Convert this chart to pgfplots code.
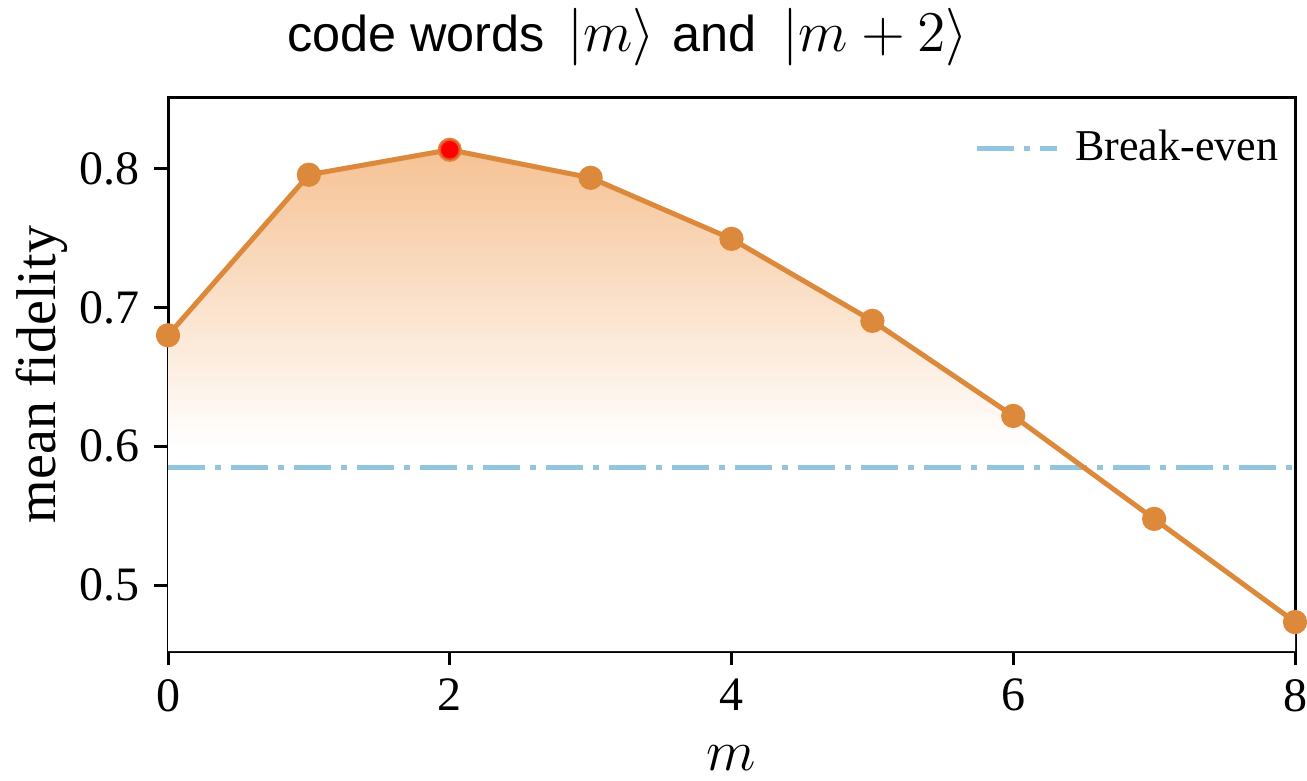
\documentclass[border=0pt]{standalone}
\usepackage{fontspec}
\setmainfont{Liberation Serif}
\newfontfamily\titlefont{Liberation Sans}
\usepackage{pgfplots}
\pgfplotsset{compat=1.18}

\definecolor{fidline}{RGB}{221,137,60}
\definecolor{fidtop}{RGB}{246,194,148}
\definecolor{breakeven}{RGB}{146,197,222}

% vertical fade: white up to ~0.6, orange at the top of the curve
\pgfdeclareverticalshading{fidfade}{100bp}{%
  color(0bp)=(white); color(25bp)=(white); color(45.4bp)=(white);
  color(75bp)=(fidtop); color(100bp)=(fidtop)}

\pgfplotsset{
  long line legend/.style={
    legend image code/.code={\draw[##1] (0pt,0pt) -- (20pt,0pt); \path (22pt,0pt);}},
  every axis title shift=0pt,
}
\newcommand{\ketmath}[1]{{\fontsize{15}{17}\selectfont$|#1\rangle$}}

\begin{document}
\begin{tikzpicture}
\begin{axis}[
  scale only axis,
  width=281.75pt, height=138.25pt,
  xmin=0, xmax=8, ymin=0.4525, ymax=0.851,
  xtick={0,2,4,6,8},
  ytick={0.5,0.6,0.7,0.8},
  yticklabel style={/pgf/number format/.cd, fixed, fixed zerofill, precision=1},
  /pgf/number format/assume math mode=true,
  tick label style={font=\fontsize{12}{14}\selectfont, black},
  tick align=outside,
  xtick pos=bottom, ytick pos=left,
  major tick length=3.5pt,
  every tick/.style={black, line width=0.75pt},
  axis line style={black, line width=0.75pt},
  clip=false,
  xlabel={$m$},
  ylabel={mean fidelity},
  label style={font=\fontsize{14}{16}\selectfont},
  xlabel style={at={(axis description cs:0.5,-0.193)}, anchor=center},
  ylabel style={at={(axis description cs:-0.1118,0.5)}, anchor=center},
  title={\titlefont code words\hspace{5.5pt}\ketmath{m}\hspace{4.5pt}and\hspace{6.5pt}\ketmath{m+2}},
  title style={at={(axis description cs:0.408,1)}, anchor=base, yshift=11.5pt,
    inner sep=0pt, font=\fontsize{12.6}{15}\selectfont},
  legend style={at={(1,1)}, anchor=north east, draw=none, fill=none,
    font=\fontsize{11}{13}\selectfont, xshift=1pt, yshift=-3.75pt},
  legend cell align=left,
]
% shaded area under the fidelity curve
\addplot[draw=none, shading=fidfade, forget plot] coordinates {
  (0,0.6800) (1,0.7957) (2,0.8137) (3,0.7935) (4,0.7495)
  (5,0.6904) (6,0.6219) (7,0.5477) (8,0.4734)
} \closedcycle;

% break-even reference
\addplot[breakeven, line width=1.25pt,
  dash pattern=on 9.25pt off 2.5pt on 1.5pt off 2.5pt, long line legend]
  coordinates {(0,0.5844) (8,0.5844)};
\addlegendentry{Break-even}

% mean fidelity versus m
\addplot[fidline, line width=1.25pt, mark=*, mark size=2.4pt,
  mark options={fill=fidline, draw=fidline}, forget plot] coordinates {
  (0,0.6800) (1,0.7957) (2,0.8137) (3,0.7935) (4,0.7495)
  (5,0.6904) (6,0.6219) (7,0.5477) (8,0.4734)
};
% best point
\addplot[only marks, mark=*, mark size=2.4pt,
  mark options={fill=red, draw=fidline!60!red, line width=0.4pt}, forget plot]
  coordinates {(2,0.8137)};
\end{axis}
\pgfresetboundingbox
\path[use as bounding box] (current axis.south west) ++(-42pt,-32.25pt)
  rectangle ([shift={(3pt,24.5pt)}]current axis.north east);
\end{tikzpicture}
\end{document}
